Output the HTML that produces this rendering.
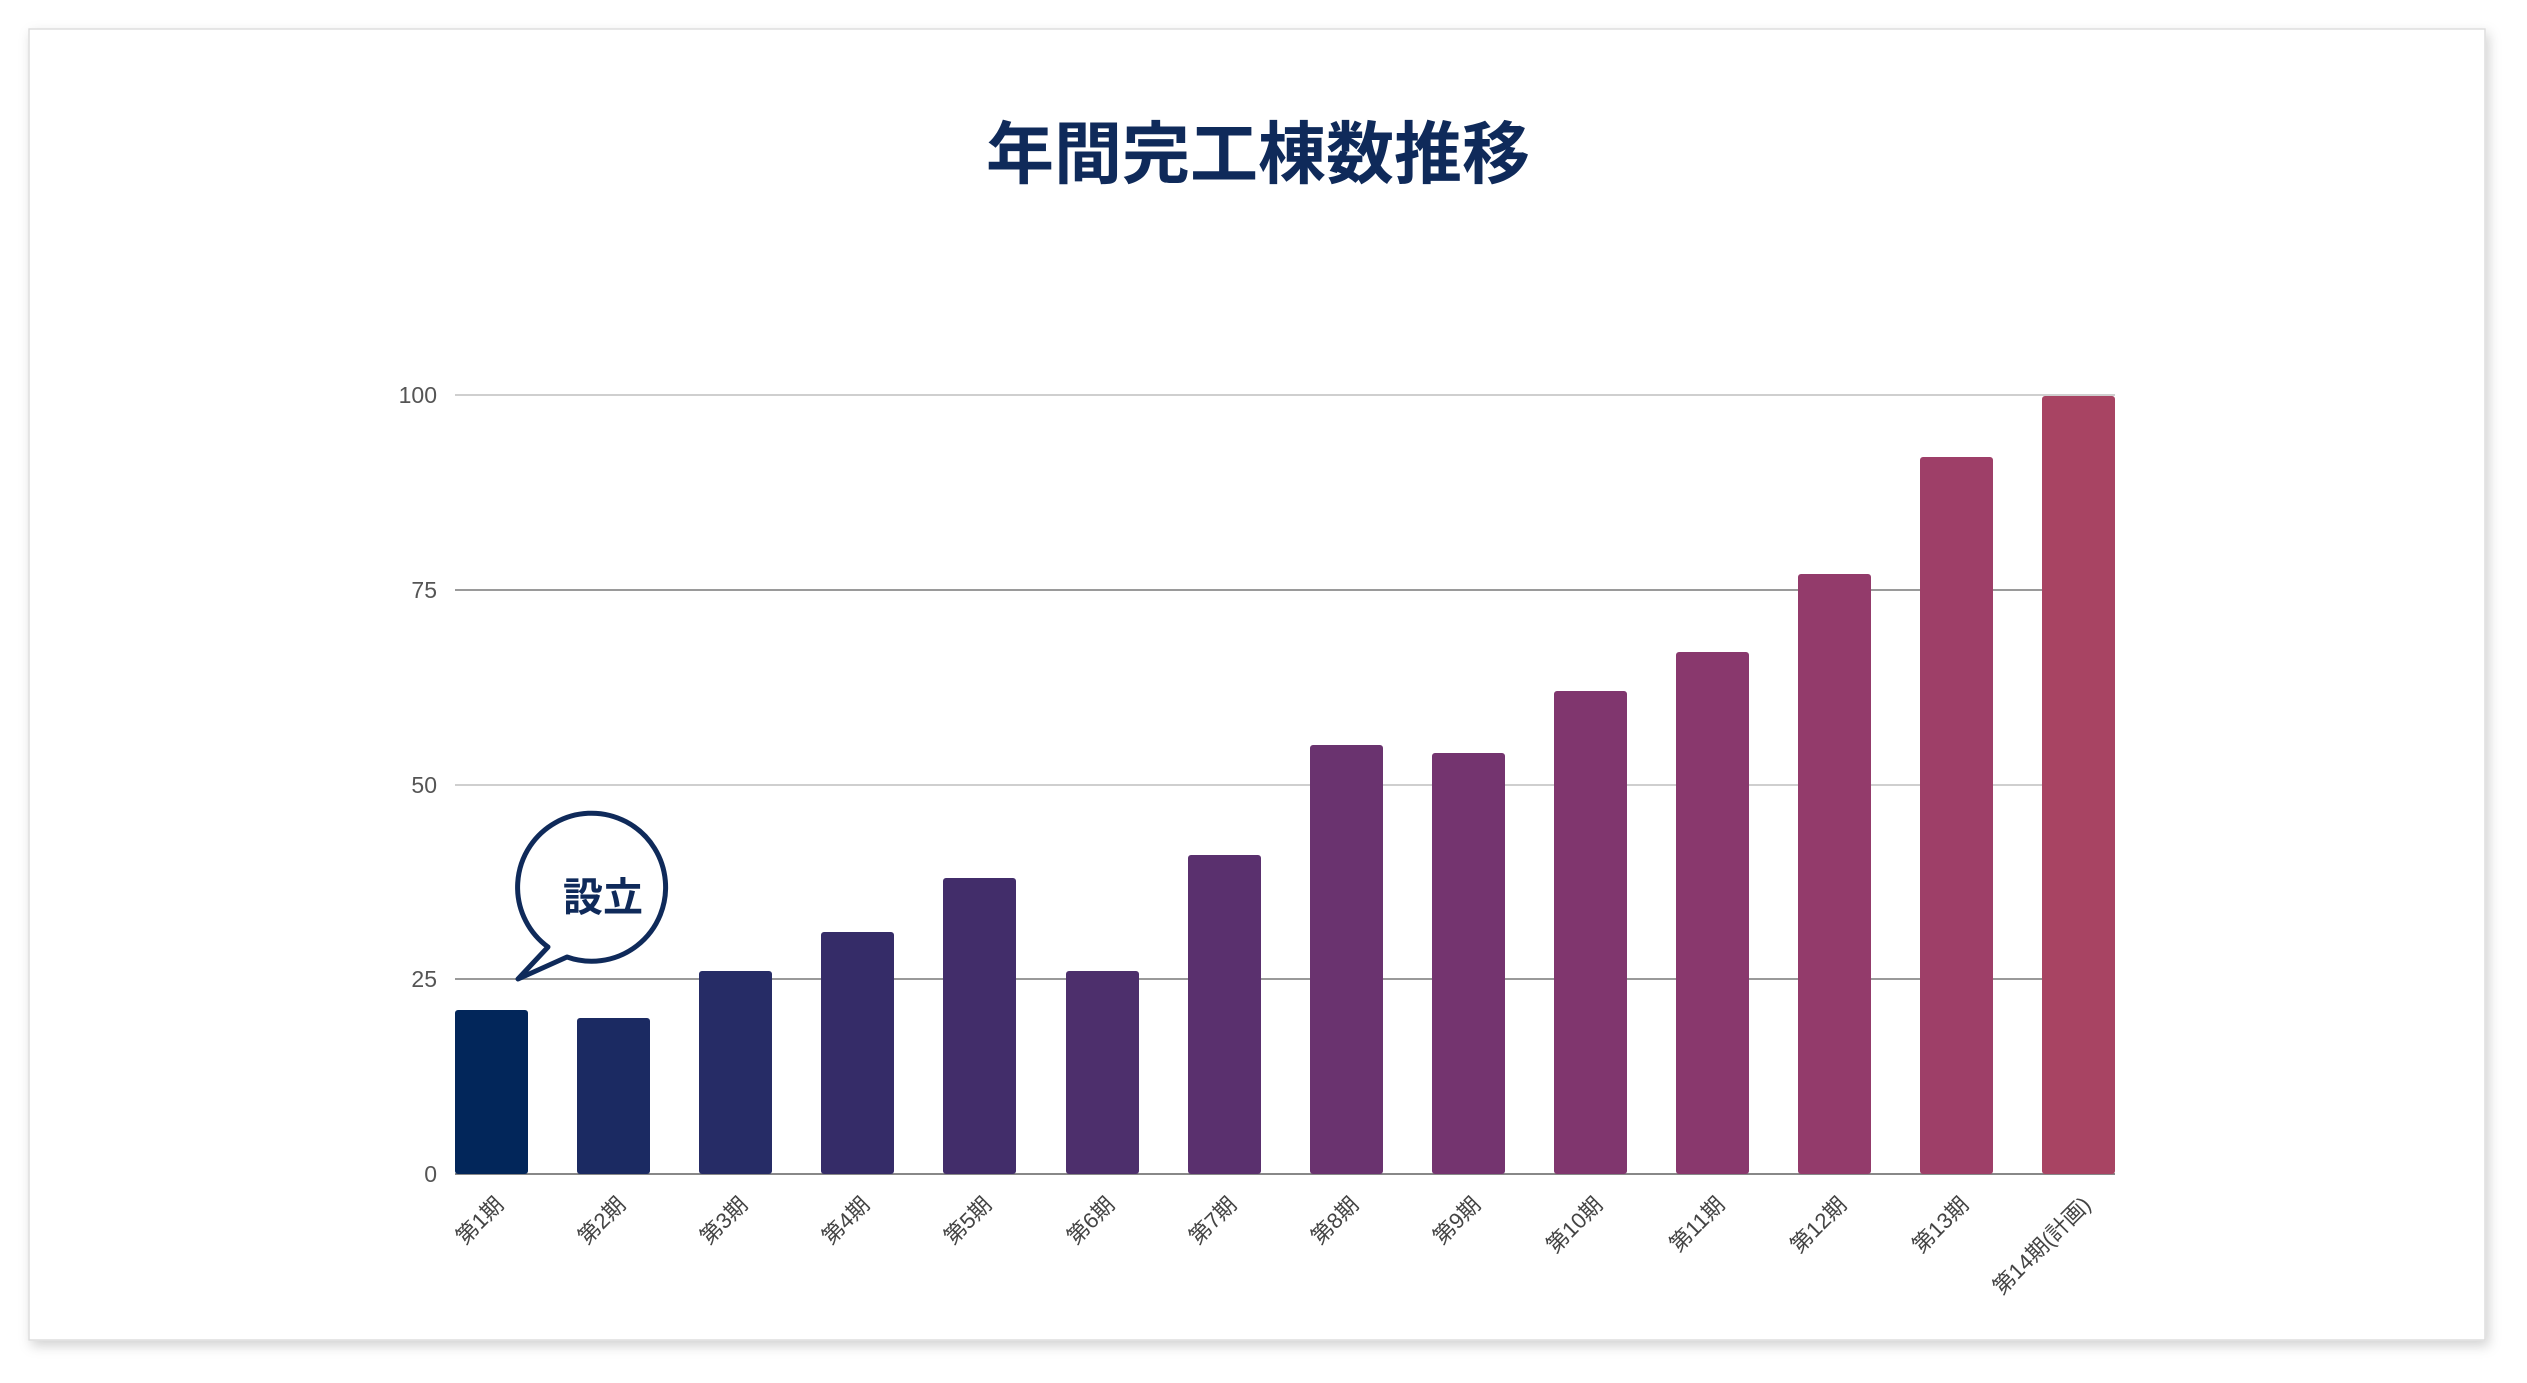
<!DOCTYPE html>
<html><head><meta charset="utf-8"><style>
html,body{margin:0;padding:0;background:#fff;width:2527px;height:1383px;overflow:hidden}
</style></head><body>
<svg width="2527" height="1383" viewBox="0 0 2527 1383" xmlns="http://www.w3.org/2000/svg">
<defs><filter id="sh" x="-2%" y="-2%" width="104%" height="105%"><feDropShadow dx="3" dy="5" stdDeviation="6" flood-color="#000" flood-opacity="0.18"/></filter></defs>
<rect x="29" y="29" width="2456" height="1311" fill="#fff" stroke="#ddd" stroke-width="1.5" filter="url(#sh)"/>
<text x="1258" y="178" text-anchor="middle" font-family="'Liberation Sans','Noto Sans CJK JP',sans-serif" font-weight="bold" font-size="68" fill="#0f2a5a">年間完工棟数推移</text>
<g stroke-width="2">
<line x1="455" x2="2115" y1="395" y2="395" stroke="#cfcfcf"/>
<line x1="455" x2="2115" y1="590" y2="590" stroke="#9a9a9a"/>
<line x1="455" x2="2115" y1="785" y2="785" stroke="#cfcfcf"/>
<line x1="455" x2="2115" y1="979" y2="979" stroke="#9a9a9a"/>
<line x1="455" x2="2115" y1="1174" y2="1174" stroke="#888"/>
</g>
<g font-family="'Liberation Sans',sans-serif" font-size="23" fill="#555" text-anchor="end">
<text x="437" y="403">100</text><text x="437" y="598">75</text><text x="437" y="793">50</text><text x="437" y="987">25</text><text x="437" y="1182">0</text>
</g>
<g>
<rect x="455" y="1010" width="73" height="164" rx="3" fill="#02265a"/>
<rect x="577" y="1018" width="73" height="156" rx="3" fill="#1b2a62"/>
<rect x="699" y="971" width="73" height="203" rx="3" fill="#262c66"/>
<rect x="821" y="932" width="73" height="242" rx="3" fill="#352c68"/>
<rect x="943" y="878" width="73" height="296" rx="3" fill="#422d6a"/>
<rect x="1066" y="971" width="73" height="203" rx="3" fill="#4d2f6c"/>
<rect x="1188" y="855" width="73" height="319" rx="3" fill="#5a306e"/>
<rect x="1310" y="745" width="73" height="429" rx="3" fill="#6a336f"/>
<rect x="1432" y="753" width="73" height="421" rx="3" fill="#74346f"/>
<rect x="1554" y="691" width="73" height="483" rx="3" fill="#80366e"/>
<rect x="1676" y="652" width="73" height="522" rx="3" fill="#89386d"/>
<rect x="1798" y="574" width="73" height="600" rx="3" fill="#933b6b"/>
<rect x="1920" y="457" width="73" height="717" rx="3" fill="#9e3f68"/>
<rect x="2042" y="396" width="73" height="778" rx="3" fill="#a84463"/>
</g>
<g font-family="'Liberation Sans','Noto Sans CJK JP',sans-serif" font-size="22" fill="#444" text-anchor="end">
<text transform="translate(505,1206) rotate(-45)">第1期</text>
<text transform="translate(627,1206) rotate(-45)">第2期</text>
<text transform="translate(749,1206) rotate(-45)">第3期</text>
<text transform="translate(871,1206) rotate(-45)">第4期</text>
<text transform="translate(993,1206) rotate(-45)">第5期</text>
<text transform="translate(1116,1206) rotate(-45)">第6期</text>
<text transform="translate(1238,1206) rotate(-45)">第7期</text>
<text transform="translate(1360,1206) rotate(-45)">第8期</text>
<text transform="translate(1482,1206) rotate(-45)">第9期</text>
<text transform="translate(1604,1206) rotate(-45)">第10期</text>
<text transform="translate(1726,1206) rotate(-45)">第11期</text>
<text transform="translate(1848,1206) rotate(-45)">第12期</text>
<text transform="translate(1970,1206) rotate(-45)">第13期</text>
<text transform="translate(2092,1206) rotate(-45)">第14期(計画)</text>
</g>
<path d="M548,947 A74,74 0 1 1 567,957 L518,979 Z" fill="#fff" stroke="#0f2a5a" stroke-width="5" stroke-linejoin="round"/>
<text x="603" y="911" text-anchor="middle" font-family="'Liberation Sans','Noto Sans CJK JP',sans-serif" font-weight="bold" font-size="40" fill="#0f2a5a">設立</text>
</svg>
</body></html>
